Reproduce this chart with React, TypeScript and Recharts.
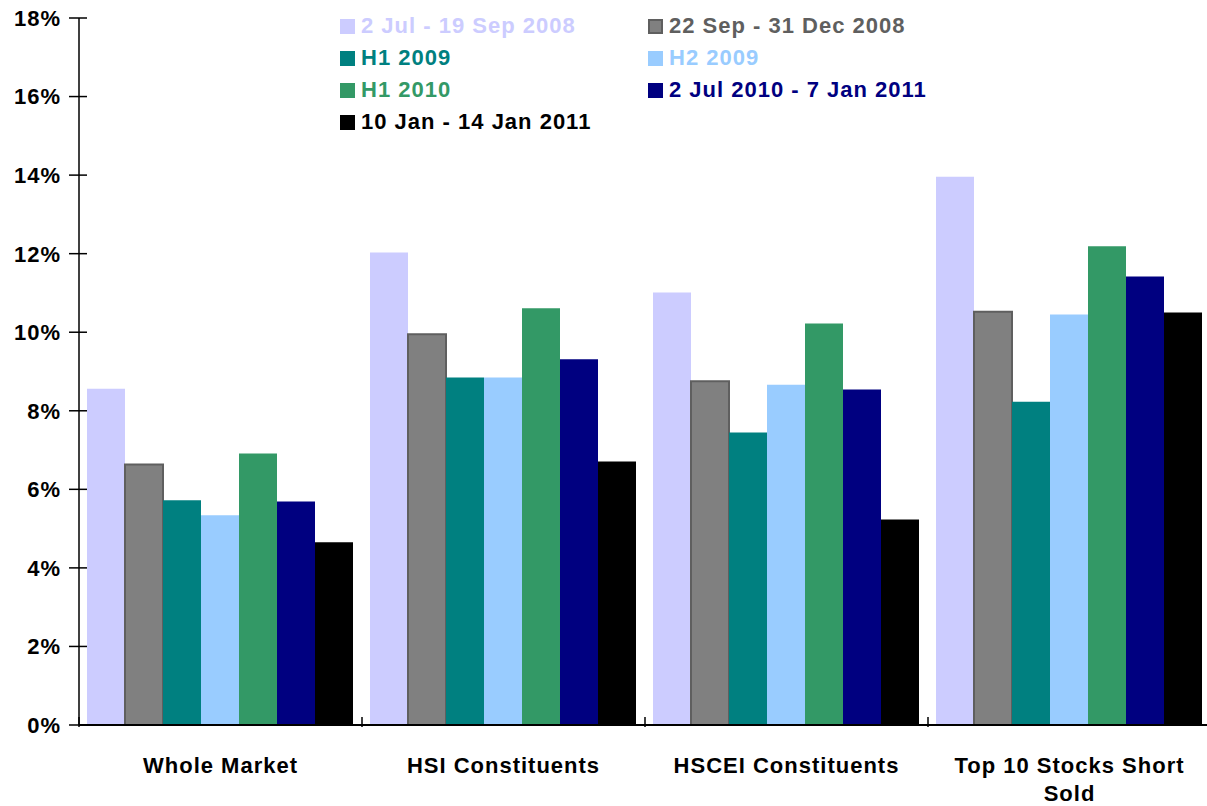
import { BarChart, Bar, XAxis, YAxis, Legend } from "recharts";

const categories = [
  "Whole Market",
  "HSI Constituents",
  "HSCEI Constituents",
  "Top 10 Stocks Short Sold",
];

// short selling as % of turnover, per period
const jul08Sep08 = [8.56, 12.03, 11.01, 13.96];
const sep08Dec08 = [6.63, 9.95, 8.75, 10.52];
const h1y2009 = [5.72, 8.85, 7.45, 8.23];
const h2y2009 = [5.34, 8.85, 8.66, 10.45];
const h1y2010 = [6.91, 10.61, 10.22, 12.19];
const jul10Jan11 = [5.69, 9.31, 8.54, 11.42];
const jan11 = [4.65, 6.71, 5.23, 10.5];

const periodNames = [
  "2 Jul - 19 Sep 2008",
  "22 Sep - 31 Dec 2008",
  "H1 2009",
  "H2 2009",
  "H1 2010",
  "2 Jul 2010 - 7 Jan 2011",
  "10 Jan - 14 Jan 2011",
];

const yTicks = [0, 2, 4, 6, 8, 10, 12, 14, 16, 18];

const seriesValues = [jul08Sep08, sep08Dec08, h1y2009, h2y2009, h1y2010, jul10Jan11, jan11];
const barColors = ["#CCCCFF", "#808080", "#008080", "#99CCFF", "#339966", "#000080", "#000000"];
const textColors = ["#CCCCFF", "#5f5f5f", "#008080", "#99CCFF", "#339966", "#000080", "#000000"];

const data = categories.map((name, i) => {
  const row: Record<string, string | number> = { name };
  seriesValues.forEach((vals, s) => {
    row["s" + s] = vals[i];
  });
  return row;
});

const CHART_W = 1211;
const CHART_H = 806;
const Y_AXIS_W = 79;
const X_AXIS_H = 81;
const BAND = (CHART_W - Y_AXIS_W) / categories.length;
const FONT = "'Liberation Sans', Arial, sans-serif";
const Y_TICK_MARGIN = 18;
const MAX_CHARS = 20;

// break a label into lines of at most MAX_CHARS characters
const wrapLabel = (label: string) => {
  const lines: string[] = [];
  let cur = "";
  label.split(" ").forEach((w) => {
    const next = cur ? cur + " " + w : w;
    if (next.length > MAX_CHARS && cur) {
      lines.push(cur);
      cur = w;
    } else {
      cur = next;
    }
  });
  if (cur) lines.push(cur);
  return lines;
};

const YTick = (props: any) => {
  const { x, y, payload } = props;
  const axisX = x + Y_TICK_MARGIN;
  return (
    <g>
      <line x1={axisX - 10} x2={axisX + 8} y1={y} y2={y} stroke="#000" strokeWidth={1.5} />
      <text
        x={x}
        y={y}
        dy="0.36em"
        textAnchor="end"
        fontFamily={FONT}
        fontSize={22}
        fontWeight="bold"
        letterSpacing={1}
        fill="#000"
      >
        {payload.value}%
      </text>
    </g>
  );
};

const XTick = (props: any) => {
  const { x, y, payload } = props;
  const left = x - BAND / 2;
  const lines = wrapLabel(String(payload.value));
  return (
    <g>
      <line x1={left} x2={left} y1={y - 8} y2={y + 2} stroke="#000" strokeWidth={1.5} />
      <text
        x={x}
        y={y + 48}
        textAnchor="middle"
        fontFamily={FONT}
        fontSize={22}
        fontWeight="bold"
        letterSpacing={1}
        fill="#000"
      >
        {lines.map((ln, i) => (
          <tspan key={i} x={x} dy={i === 0 ? 0 : 28}>
            {ln}
          </tspan>
        ))}
      </text>
    </g>
  );
};

const LegendGrid = () => (
  <div
    style={{
      display: "grid",
      gridTemplateColumns: "308px 308px",
      gridAutoRows: "32px",
      fontFamily: FONT,
      fontSize: 22,
      fontWeight: "bold",
      letterSpacing: 1,
    }}
  >
    {periodNames.map((name, i) => (
      <div key={name} style={{ display: "flex", alignItems: "center", color: textColors[i], whiteSpace: "nowrap" }}>
        <span
          style={{
            display: "inline-block",
            width: 15,
            height: 15,
            marginRight: 6,
            background: barColors[i],
            boxSizing: "border-box",
            border: i === 1 ? "2px solid #5f5f5f" : "none",
          }}
        />
        {name}
      </div>
    ))}
  </div>
);

export default function App() {
  return (
    <div style={{ position: "absolute", left: 0, top: 0, width: 1207, height: 806, overflow: "hidden", background: "#fff" }}>
      <BarChart
        width={CHART_W}
        height={CHART_H}
        data={data}
        margin={{ top: 18, right: 0, bottom: 0, left: 0 }}
        barGap={0}
        barCategoryGap={8}
      >
        <XAxis
          dataKey="name"
          height={X_AXIS_H}
          interval={0}
          tickSize={0}
          tickMargin={0}
          tickLine={false}
          axisLine={{ stroke: "#000", strokeWidth: 2 }}
          tick={XTick}
        />
        <YAxis
          width={Y_AXIS_W}
          domain={[0, 18]}
          ticks={yTicks}
          interval={0}
          tickSize={0}
          tickMargin={Y_TICK_MARGIN}
          tickLine={false}
          axisLine={{ stroke: "#000", strokeWidth: 1.5 }}
          tick={YTick}
        />
        <Legend
          layout="vertical"
          align="center"
          verticalAlign="middle"
          wrapperStyle={{ left: 340, top: 10, width: 620, height: 128 }}
          content={() => <LegendGrid />}
        />
        {seriesValues.map((_, s) => (
          <Bar
            key={s}
            dataKey={"s" + s}
            name={periodNames[s]}
            fill={barColors[s]}
            stroke={s === 1 ? "#5f5f5f" : undefined}
            strokeWidth={s === 1 ? 2 : 0}
            isAnimationActive={false}
          />
        ))}
      </BarChart>
    </div>
  );
}
